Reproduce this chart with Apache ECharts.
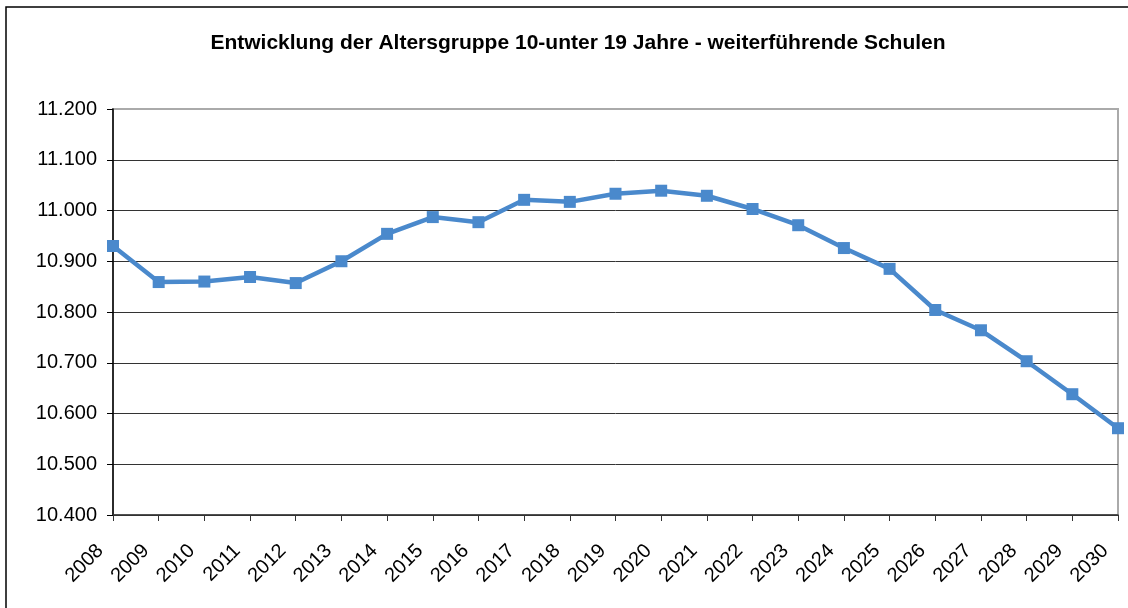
<!DOCTYPE html>
<html>
<head>
<meta charset="utf-8">
<script src="https://cdn.jsdelivr.net/npm/echarts@6/dist/echarts.min.js"></script>
<style>
  html, body { margin: 0; padding: 0; background: #fff; }
  #chart { width: 1128px; height: 608px; }
</style>
</head>
<body>
<div id="chart"></div>
<script>
var years = ['2008', '2009', '2010', '2011', '2012', '2013', '2014', '2015', '2016', '2017', '2018',
    '2019', '2020', '2021', '2022', '2023', '2024', '2025', '2026', '2027', '2028', '2029', '2030'];
var schueler = [10930, 10859, 10860, 10869, 10857, 10900, 10954, 10987, 10977, 11021, 11017,
    11033, 11039, 11029, 11003, 10971, 10926, 10885, 10804, 10764, 10703, 10638, 10571];

var chart = echarts.init(document.getElementById('chart'));
var option = {
    backgroundColor: '#fff',
    animation: false,
    title: {
        text: 'Entwicklung der Altersgruppe 10-unter 19 Jahre - weiterführende Schulen',
        left: 573,
        top: 28,
        textAlign: 'center',
        textStyle: {
            fontFamily: 'Liberation Sans',
            fontSize: 21,
            fontWeight: 'bold',
            color: '#000'
        }
    },
    graphic: [{
        type: 'rect',
        shape: {x: 6, y: 7, width: 1200, height: 700},
        style: {fill: 'none', stroke: '#000', lineWidth: 1.5}
    }],
    grid: {
        left: 113,
        right: 10,
        top: 109,
        bottom: 93,
        show: true,
        borderColor: '#aaa',
        borderWidth: 2
    },
    xAxis: {
        type: 'category',
        data: years,
        boundaryGap: false,
        axisLine: {lineStyle: {color: '#333', width: 1.5}},
        axisTick: {show: true, length: 6, alignWithLabel: true, lineStyle: {color: '#333'}},
        axisLabel: {
            rotate: 45,
            margin: 20,
            padding: [0, 18, 0, 0],
            fontFamily: 'Liberation Sans',
            fontSize: 20,
            color: '#000'
        }
    },
    yAxis: {
        type: 'value',
        min: 10400,
        max: 11200,
        interval: 100,
        axisLine: {show: true, lineStyle: {color: '#000', width: 1.5}},
        axisTick: {show: true, length: 6, lineStyle: {color: '#000'}},
        axisLabel: {
            margin: 16,
            fontFamily: 'Liberation Sans',
            fontSize: 20,
            color: '#000',
            formatter: function (v) {
                return (v / 1000).toFixed(3);
            }
        },
        splitLine: {
            lineStyle: {
                color: ['#333', '#333', '#333', '#333', '#333', '#333', '#333', '#333', '#aaa'],
                width: 1
            }
        }
    },
    series: [{
        type: 'line',
        data: schueler,
        symbol: 'rect',
        symbolSize: 12,
        itemStyle: {color: '#4a89cc'},
        lineStyle: {color: '#4a89cc', width: 4.5}
    }]
};
chart.setOption(option);
</script>
</body>
</html>
